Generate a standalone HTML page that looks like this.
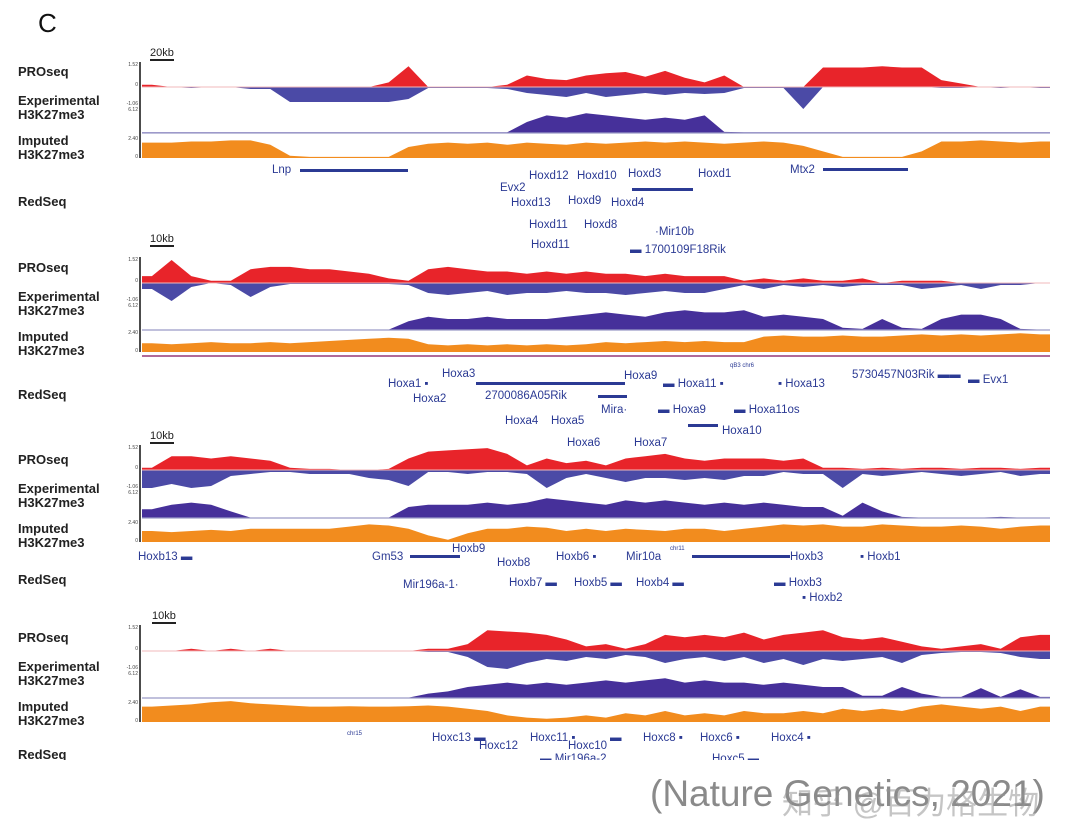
<!DOCTYPE html>
<html><head><meta charset="utf-8">
<style>
body{margin:0;background:#fff;}
#wrap{position:relative;width:1080px;height:839px;overflow:hidden;background:#fff;font-family:"Liberation Sans",Arial,sans-serif;}
.lab{position:absolute;left:18px;font-weight:bold;font-size:13px;color:#222;line-height:14px;}
.g{position:absolute;font-size:11.5px;color:#2b3a94;white-space:nowrap;line-height:12px;}
.gl{position:absolute;height:3px;background:#2b3a94;}
.sb{position:absolute;font-size:11px;color:#222;border-bottom:2px solid #222;line-height:12px;}
</style></head><body>
<div id="wrap">
<div style="position:absolute;left:38px;top:8px;font-size:26px;color:#111;">C</div>
<svg id="svg" width="1080" height="839" style="position:absolute;left:0;top:0"></svg>

<div class="sb" style="left:150px;top:47px">20kb</div>
<div class="lab" style="top:65px">PROseq</div>
<div class="lab" style="top:94px">Experimental<br>H3K27me3</div>
<div class="lab" style="top:134px">Imputed<br>H3K27me3</div>
<div class="lab" style="top:195px">RedSeq</div>

<div class="sb" style="left:150px;top:233px">10kb</div>
<div class="lab" style="top:261px">PROseq</div>
<div class="lab" style="top:290px">Experimental<br>H3K27me3</div>
<div class="lab" style="top:330px">Imputed<br>H3K27me3</div>
<div class="lab" style="top:388px">RedSeq</div>

<div class="sb" style="left:150px;top:430px">10kb</div>
<div class="lab" style="top:453px">PROseq</div>
<div class="lab" style="top:482px">Experimental<br>H3K27me3</div>
<div class="lab" style="top:522px">Imputed<br>H3K27me3</div>
<div class="lab" style="top:573px">RedSeq</div>

<div class="sb" style="left:152px;top:610px">10kb</div>
<div class="lab" style="top:631px">PROseq</div>
<div class="lab" style="top:660px">Experimental<br>H3K27me3</div>
<div class="lab" style="top:700px">Imputed<br>H3K27me3</div>
<div class="lab" style="top:748px;height:12px;overflow:hidden">RedSeq</div>

<div class="g" style="left:272px;top:164px">Lnp</div>
<div class="gl" style="left:300px;top:169px;width:108px"></div>
<div class="g" style="left:529px;top:170px">Hoxd12</div>
<div class="g" style="left:577px;top:170px">Hoxd10</div>
<div class="g" style="left:628px;top:168px">Hoxd3</div>
<div class="g" style="left:698px;top:168px">Hoxd1</div>
<div class="g" style="left:790px;top:164px">Mtx2</div>
<div class="gl" style="left:823px;top:168px;width:85px"></div>
<div class="g" style="left:500px;top:182px">Evx2</div>
<div class="gl" style="left:632px;top:188px;width:61px"></div>
<div class="g" style="left:511px;top:197px">Hoxd13</div>
<div class="g" style="left:568px;top:195px">Hoxd9</div>
<div class="g" style="left:611px;top:197px">Hoxd4</div>
<div class="g" style="left:529px;top:219px">Hoxd11</div>
<div class="g" style="left:584px;top:219px">Hoxd8</div>
<div class="g" style="left:655px;top:226px">·Mir10b</div>
<div class="g" style="left:531px;top:239px">Hoxd11</div>
<div class="g" style="left:630px;top:244px">▬ 1700109F18Rik</div>
<div class="g" style="left:730px;top:360px;font-size:6px">qB3 chr6</div>
<div class="g" style="left:442px;top:368px">Hoxa3</div>
<div class="g" style="left:624px;top:370px">Hoxa9</div>
<div class="g" style="left:852px;top:369px">5730457N03Rik ▬▬</div>
<div class="g" style="left:388px;top:378px">Hoxa1 ▪</div>
<div class="gl" style="left:476px;top:382px;width:149px"></div>
<div class="g" style="left:663px;top:378px">▬ Hoxa11 ▪</div>
<div class="g" style="left:778px;top:378px">▪ Hoxa13</div>
<div class="g" style="left:968px;top:374px">▬ Evx1</div>
<div class="g" style="left:413px;top:393px">Hoxa2</div>
<div class="g" style="left:485px;top:390px">2700086A05Rik</div>
<div class="gl" style="left:598px;top:395px;width:29px"></div>
<div class="g" style="left:601px;top:404px">Mira·</div>
<div class="g" style="left:658px;top:404px">▬ Hoxa9</div>
<div class="g" style="left:734px;top:404px">▬ Hoxa11os</div>
<div class="g" style="left:505px;top:415px">Hoxa4</div>
<div class="g" style="left:551px;top:415px">Hoxa5</div>
<div class="gl" style="left:688px;top:424px;width:30px"></div>
<div class="g" style="left:722px;top:425px">Hoxa10</div>
<div class="g" style="left:567px;top:437px">Hoxa6</div>
<div class="g" style="left:634px;top:437px">Hoxa7</div>
<div class="g" style="left:670px;top:543px;font-size:6px">chr11</div>
<div class="g" style="left:452px;top:543px">Hoxb9</div>
<div class="g" style="left:138px;top:551px">Hoxb13 ▬</div>
<div class="g" style="left:372px;top:551px">Gm53</div>
<div class="gl" style="left:410px;top:555px;width:50px"></div>
<div class="g" style="left:556px;top:551px">Hoxb6 ▪</div>
<div class="g" style="left:626px;top:551px">Mir10a</div>
<div class="gl" style="left:692px;top:555px;width:98px"></div>
<div class="g" style="left:790px;top:551px">Hoxb3</div>
<div class="g" style="left:860px;top:551px">▪ Hoxb1</div>
<div class="g" style="left:497px;top:557px">Hoxb8</div>
<div class="g" style="left:403px;top:579px">Mir196a-1·</div>
<div class="g" style="left:509px;top:577px">Hoxb7 ▬</div>
<div class="g" style="left:574px;top:577px">Hoxb5 ▬</div>
<div class="g" style="left:636px;top:577px">Hoxb4 ▬</div>
<div class="g" style="left:774px;top:577px">▬ Hoxb3</div>
<div class="g" style="left:802px;top:592px">▪ Hoxb2</div>
<div class="g" style="left:347px;top:728px;font-size:6px">chr15</div>
<div class="g" style="left:432px;top:732px">Hoxc13 ▬</div>
<div class="g" style="left:479px;top:740px">Hoxc12</div>
<div class="g" style="left:530px;top:732px">Hoxc11 ▪</div>
<div class="g" style="left:568px;top:740px">Hoxc10</div>
<div class="g" style="left:610px;top:732px">▬</div>
<div class="g" style="left:643px;top:732px">Hoxc8 ▪</div>
<div class="g" style="left:700px;top:732px">Hoxc6 ▪</div>
<div class="g" style="left:771px;top:732px">Hoxc4 ▪</div>
<div class="g" style="left:540px;top:753px;height:7px;overflow:hidden">▬ Mir196a-2</div>
<div class="g" style="left:712px;top:753px;height:7px;overflow:hidden">Hoxc5 ▬</div>

<div style="position:absolute;left:650px;top:773px;font-size:37px;color:#8a8a8a;white-space:nowrap;">(Nature Genetics, 2021)</div>
<div style="position:absolute;left:782px;top:778px;font-size:31px;color:rgba(150,150,150,0.55);white-space:nowrap;font-family:'Liberation Sans','Noto Sans CJK SC',sans-serif;">知乎 @百力格生物</div>
</div>
<script>
const binCount = 46;
const p1Red  = [0.1,0,0,0,0,0,0,0,0,0,0,0,0.2,0.9,0,0,0,0,0.1,0.5,0.35,0.3,0.5,0.6,0.65,0.45,0.7,0.4,0.2,0.5,0,0,0,0,0.85,0.85,0.85,0.9,0.85,0.85,0.3,0.15,0,0,0,0];
const p1Blue = [0,0,0.05,0,0,0.1,0.1,0.75,0.75,0.75,0.75,0.75,0.75,0.6,0.05,0.05,0.05,0.05,0.1,0.3,0.4,0.5,0.3,0.5,0.4,0.3,0.4,0.3,0.35,0.3,0.05,0.05,0.05,1.1,0,0,0,0,0,0,0.05,0.05,0,0.05,0,0.05];
const p1Exp  = [0.03,0.03,0.03,0.03,0.03,0.03,0.03,0.03,0.03,0.03,0.03,0.03,0.03,0.03,0.03,0.03,0.03,0.03,0.03,0.5,0.8,0.7,0.9,0.8,0.7,0.6,0.7,0.6,0.8,0.05,0.03,0.03,0.03,0.03,0.03,0.03,0.03,0.03,0.03,0.03,0.03,0.03,0.03,0.03,0.03,0.03];
const p1Imp  = [0.7,0.7,0.75,0.75,0.8,0.8,0.6,0.1,0.05,0.05,0.05,0.05,0.05,0.5,0.65,0.7,0.65,0.7,0.6,0.7,0.65,0.6,0.7,0.65,0.7,0.75,0.7,0.75,0.7,0.65,0.7,0.75,0.7,0.55,0.3,0.05,0.05,0.05,0.05,0.3,0.75,0.75,0.8,0.75,0.7,0.75];
const p2Red  = [0.3,1.0,0.3,0.1,0.1,0.6,0.7,0.7,0.6,0.6,0.5,0.4,0.2,0.1,0.6,0.7,0.6,0.5,0.5,0.4,0.5,0.4,0.5,0.4,0.4,0.3,0.4,0.3,0.3,0.3,0.1,0.2,0.1,0.2,0.1,0.1,0.2,0,0.1,0.1,0.1,0,0,0,0,0];
const p2Blue = [0.3,0.9,0.2,0,0.1,0.7,0.2,0.05,0.05,0.05,0.05,0.05,0.05,0.1,0.5,0.6,0.5,0.4,0.6,0.5,0.5,0.4,0.5,0.5,0.6,0.5,0.4,0.5,0.5,0.3,0.1,0.3,0.1,0.2,0.1,0.2,0.1,0.1,0.1,0.3,0.2,0.1,0.3,0.1,0.1,0];
const p2Exp  = [0.02,0.02,0.02,0.02,0.02,0.02,0.02,0.02,0.02,0.02,0.02,0.02,0.02,0.4,0.6,0.5,0.5,0.6,0.5,0.5,0.5,0.6,0.7,0.8,0.7,0.6,0.8,0.9,0.8,0.8,0.9,0.6,0.7,0.6,0.5,0.1,0.05,0.5,0.1,0.05,0.5,0.7,0.7,0.5,0.05,0.02];
const p2Imp  = [0.4,0.35,0.4,0.45,0.4,0.4,0.45,0.4,0.45,0.5,0.55,0.6,0.65,0.6,0.35,0.3,0.35,0.3,0.35,0.3,0.35,0.3,0.35,0.45,0.4,0.45,0.5,0.45,0.5,0.45,0.45,0.7,0.75,0.7,0.7,0.75,0.7,0.7,0.75,0.8,0.75,0.8,0.75,0.8,0.85,0.8];
const p3Red  = [0.1,0.6,0.6,0.5,0.6,0.5,0.4,0.1,0.05,0.05,0,0,0.05,0.5,0.8,0.85,0.9,0.95,0.7,0.2,0.5,0.3,0.4,0.2,0.5,0.6,0.7,0.5,0.4,0.5,0.5,0.5,0.4,0.5,0.1,0.1,0.05,0.1,0.05,0.1,0.1,0.05,0.1,0.1,0.05,0.1];
const p3Blue = [0.9,0.7,0.9,0.8,0.3,0.2,0.1,0.1,0.2,0.2,0.2,0.4,0.5,0.8,0.1,0.1,0.2,0.1,0.1,0.2,0.9,0.4,0.2,0.4,0.6,0.4,0.4,0.5,0.4,0.5,0.3,0.3,0.1,0.2,0.2,0.9,0.2,0.3,0.2,0.1,0.2,0.3,0.2,0.1,0.3,0.2];
const p3Exp  = [0.4,0.6,0.7,0.6,0.3,0.02,0.02,0.02,0.02,0.02,0.02,0.02,0.02,0.5,0.6,0.6,0.6,0.7,0.6,0.7,0.9,0.8,0.7,0.6,0.8,0.7,0.8,0.7,0.6,0.7,0.6,0.7,0.6,0.5,0.5,0.1,0.7,0.3,0.05,0.02,0.02,0.02,0.02,0.05,0.02,0.02];
const p3Imp  = [0.5,0.45,0.5,0.55,0.5,0.6,0.6,0.6,0.6,0.6,0.7,0.8,0.75,0.6,0.3,0.1,0.4,0.6,0.6,0.7,0.65,0.5,0.6,0.5,0.6,0.55,0.5,0.6,0.6,0.5,0.6,0.7,0.8,0.75,0.8,0.7,0.7,0.8,0.75,0.7,0.7,0.75,0.7,0.6,0.7,0.75];
const p4Red  = [0,0,0.1,0,0.1,0,0.1,0,0,0,0,0,0,0,0.1,0.1,0.3,0.9,0.85,0.8,0.7,0.5,0.2,0.3,0.1,0.3,0.7,0.6,0.7,0.6,0.8,0.5,0.7,0.8,0.9,0.6,0.5,0.6,0.4,0.2,0.1,0.2,0.3,0.1,0.6,0.7];
const p4Blue = [0,0,0,0,0,0,0,0,0,0,0,0,0,0,0.05,0.05,0.3,0.8,0.9,0.6,0.4,0.5,0.3,0.4,0.2,0.3,0.6,0.4,0.3,0.5,0.3,0.6,0.4,0.7,0.4,0.5,0.4,0.3,0.6,0.2,0.1,0.05,0.05,0.1,0.3,0.4];
const p4Exp  = [0.02,0.02,0.02,0.02,0.02,0.02,0.02,0.02,0.02,0.02,0.02,0.02,0.02,0.02,0.2,0.3,0.5,0.6,0.7,0.6,0.7,0.6,0.7,0.8,0.7,0.8,0.9,0.7,0.8,0.7,0.7,0.6,0.7,0.6,0.5,0.5,0.1,0.1,0.5,0.2,0.05,0.05,0.45,0.05,0.4,0.05];
const p4Imp  = [0.7,0.75,0.8,0.9,0.95,0.85,0.8,0.75,0.7,0.7,0.72,0.7,0.7,0.72,0.75,0.7,0.6,0.5,0.3,0.2,0.15,0.2,0.3,0.2,0.4,0.3,0.5,0.3,0.4,0.3,0.5,0.4,0.4,0.5,0.4,0.6,0.5,0.6,0.5,0.7,0.8,0.7,0.6,0.7,0.5,0.7];
const axisTicks = ["1.52","0","-1.06","6.12","2.40","0"];

const svg = document.getElementById('svg');
const NS = 'http://www.w3.org/2000/svg';
const x0 = 142, x1 = 1050;
function xScale(i){ return x0 + (x1 - x0) * (i + 0.5) / binCount; }
function yScale(base, h, v){ return base - h * v; }
function area(vals, base, h, color, name){
  let d = 'M' + x0 + ',' + base;
  d += ' L' + x0 + ',' + yScale(base, h, vals[0]).toFixed(1);
  for (let i = 0; i < vals.length; i++) d += ' L' + xScale(i).toFixed(1) + ',' + yScale(base, h, vals[i]).toFixed(1);
  d += ' L' + x1 + ',' + yScale(base, h, vals[vals.length-1]).toFixed(1) + ' L' + x1 + ',' + base + ' Z';
  const p = document.createElementNS(NS, 'path');
  p.setAttribute('d', d);
  p.setAttribute('fill', color);
  
  
  svg.appendChild(p);
}
function line(xa, ya, xb, yb, color, w, name){
  const l = document.createElementNS(NS, 'line');
  l.setAttribute('x1', xa); l.setAttribute('y1', ya); l.setAttribute('x2', xb); l.setAttribute('y2', yb);
  l.setAttribute('stroke', color); l.setAttribute('stroke-width', w);
  
  
  svg.appendChild(l);
}
function tick(x, y, t){
  const e = document.createElementNS(NS, 'text');
  e.setAttribute('x', x); e.setAttribute('y', y);
  e.setAttribute('font-size', '5'); e.setAttribute('text-anchor', 'end'); e.setAttribute('fill', '#444');
  e.setAttribute('font-family', 'Liberation Sans, sans-serif');
  e.textContent = t;
  
  
  svg.appendChild(e);
}
const panels = [
  {red:p1Red, blue:p1Blue, exp:p1Exp, imp:p1Imp, pb:87, eb:133, ib:158, top:62},
  {red:p2Red, blue:p2Blue, exp:p2Exp, imp:p2Imp, pb:283, eb:330, ib:352, top:257},
  {red:p3Red, blue:p3Blue, exp:p3Exp, imp:p3Imp, pb:470, eb:518, ib:542, top:445},
  {red:p4Red, blue:p4Blue, exp:p4Exp, imp:p4Imp, pb:651, eb:698, ib:722, top:625}
];
panels.forEach((p, k) => {
  const n = 'panel' + (k+1);
  area(p.red, p.pb, 23, '#e8242a', n + '-proseq-plus');
  area(p.blue.map(v => -v), p.pb, 20, '#4b4aa6', n + '-proseq-minus');
  line(x0, p.pb, x1, p.pb, '#f2b8bb', 1, n + '-proseq-baseline');
  area(p.exp, p.eb, 22, '#46309a', n + '-experimental-h3k27me3');
  line(x0, p.eb, x1, p.eb, '#9a9ac8', 1.2, n + '-experimental-baseline');
  area(p.imp, p.ib, 22, '#f28c1e', n + '-imputed-h3k27me3');
  line(140, p.top, 140, p.ib, '#111', 1.5, n + '-y-axis');
  tick(138, p.top + 4, axisTicks[0]);
  tick(138, p.pb - 1, axisTicks[1]);
  tick(138, p.pb + 18, axisTicks[2]);
  tick(138, p.pb + 24, axisTicks[3]);
  tick(138, p.ib - 18, axisTicks[4]);
  tick(138, p.ib, axisTicks[5]);
});
line(142, 356, 1050, 356, '#b06a9a', 2, 'panel2-chromosome-line');
</script>
</body></html>
